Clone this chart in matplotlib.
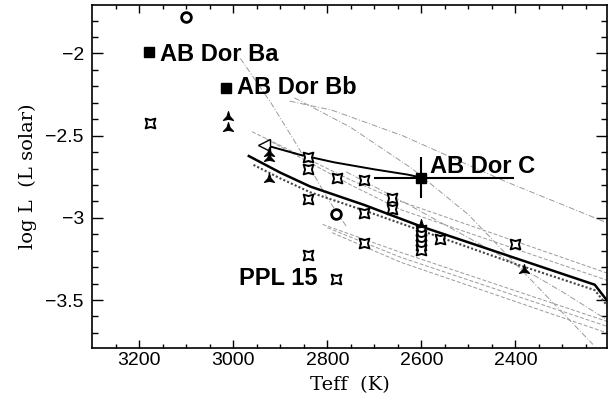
#!/usr/bin/env python3
"""HR-diagram style plot: AB Dor system vs tracks, written to out.png."""
import numpy as np
import matplotlib
matplotlib.use("Agg")
import matplotlib.pyplot as plt
from matplotlib.path import Path

# --- data (Teff in K, log L in solar units) ---
named_teff = [3180, 3015]
named_logl = [-1.99, -2.21]
abc_teff, abc_logl = 2600, -2.755
abc_xerr = [[198], [100]]
abc_yerr = 0.125

circle_teff = [3100, 2782]
circle_logl = [-1.78, -2.978]

star_teff = [3178, 2842, 2842, 2780, 2722, 2662, 2662, 2842, 2722, 2722,
             2842, 2782, 2600, 2600, 2600, 2600, 2600, 2560, 2400]
star_logl = [-2.42, -2.63, -2.70, -2.755, -2.77, -2.877, -2.947, -2.886,
             -2.97, -3.154, -3.225, -3.37, -3.075, -3.105, -3.135, -3.165,
             -3.195, -3.13, -3.16]

tri_teff = [3011, 3011, 2925, 2925, 2925, 2600, 2382]
tri_logl = [-2.385, -2.455, -2.605, -2.636, -2.764, -3.045, -3.316]

# thick solid track and its dotted twin
solid_teff = [2967, 2900, 2836, 2722, 2600, 2400, 2231, 2203]
solid_logl = [-2.624, -2.725, -2.81, -2.921, -3.053, -3.245, -3.407, -3.51]
dotted_teff = [2957, 2900, 2836, 2722, 2605, 2400, 2231, 2203]
dotted_logl = [-2.678, -2.76, -2.845, -2.955, -3.073, -3.28, -3.44, -3.54]

# track from the open triangle to AB Dor C
arrow_teff = [2935, 2860, 2786, 2700, 2629, 2600]
arrow_logl = [-2.555, -2.615, -2.662, -2.705, -2.737, -2.755]

# faint grey model lines
dashdot_teff = [[2985, 2920, 2864, 2800, 2760],
                [2880, 2790, 2640, 2420, 2205],
                [2870, 2750, 2620, 2500, 2235],
                [2760, 2640, 2450, 2300, 2205]]
dashdot_logl = [[-2.03, -2.30, -2.56, -2.88, -3.05],
                [-2.29, -2.345, -2.50, -2.78, -3.03],
                [-2.27, -2.45, -2.70, -2.98, -3.77],
                [-2.72, -2.90, -3.20, -3.45, -3.62]]
dashed_teff = [[2960, 2750, 2644, 2205],
               [2930, 2750, 2644, 2205],
               [2810, 2644, 2205],
               [2800, 2644, 2205],
               [2790, 2644, 2205]]
dashed_logl = [[-2.476, -2.77, -2.90, -3.336],
               [-2.52, -2.80, -2.95, -3.38],
               [-3.04, -3.21, -3.63],
               [-3.06, -3.24, -3.66],
               [-3.09, -3.27, -3.70]]

labels = ["AB Dor Ba", "AB Dor Bb", "AB Dor C", "PPL 15"]
label_teff = [3157, 2992, 2582, 2987]
label_logl = [-2.047, -2.249, -2.729, -3.407]


def star_marker(n, r, rot=0.0):
    verts = []
    for k in range(n):
        a = np.pi / 2 + rot + 2 * np.pi * k / n
        verts.append((np.cos(a), np.sin(a)))
        b = a + np.pi / n
        verts.append((r * np.cos(b), r * np.sin(b)))
    verts.append(verts[0])
    codes = [Path.MOVETO] + [Path.LINETO] * (len(verts) - 2) + [Path.CLOSEPOLY]
    return Path(verts, codes)


def main():
    fig = plt.figure(figsize=(6.14, 3.99), dpi=100)
    ax = fig.add_axes([0.1503, 0.1286, 0.8383, 0.8589])

    grey = "#9a9a9a"
    for t, l in zip(dashdot_teff, dashdot_logl):
        ax.plot(t, l, color=grey, lw=0.7, ls=(0, (6, 2, 1, 2)))
    for t, l in zip(dashed_teff, dashed_logl):
        ax.plot(t, l, color=grey, lw=0.7, ls=(0, (4, 2)))

    ax.plot(solid_teff, solid_logl, color="k", lw=1.8)
    ax.plot(dotted_teff, dotted_logl, color="#444444", lw=1.5, ls=(0, (1, 1)))
    ax.plot(arrow_teff, arrow_logl, color="k", lw=1.4)
    ax.plot(arrow_teff[:1], arrow_logl[:1], marker="<", ms=9, mfc="white",
            mec="k", mew=1.0, ls="none")

    star4 = star_marker(4, 0.5, rot=np.pi / 4)
    tri3 = star_marker(3, 0.3)
    ax.plot(star_teff, star_logl, ls="none", marker=star4, ms=7, mfc="white",
            mec="k", mew=1.4)
    ax.plot(tri_teff, tri_logl, ls="none", marker=tri3, ms=8.5, mfc="k",
            mec="k", mew=0.8)
    ax.plot(circle_teff, circle_logl, ls="none", marker="o", ms=7, mfc="white",
            mec="k", mew=2.0)
    ax.plot(named_teff, named_logl, ls="none", marker="s", ms=6.5, color="k")
    ax.errorbar([abc_teff], [abc_logl], xerr=abc_xerr, yerr=abc_yerr, fmt="s",
                ms=7, color="k", elinewidth=1.5, capsize=0)

    for s, t, l in zip(labels, label_teff, label_logl):
        ax.text(t, l, s, fontsize=17, fontweight="bold", family="Liberation Sans",
                ha="left", va="baseline")

    ax.set_xlim(3300, 2205)
    ax.set_ylim(-3.79, -1.705)
    ax.set_xticks([3200, 3000, 2800, 2600, 2400])
    ax.set_xticks(np.arange(3250, 2205, -50), minor=True)
    ax.set_yticks([-2, -2.5, -3, -3.5])
    ax.set_yticklabels(["\u22122", "\u22122.5", "\u22123", "\u22123.5"])
    ax.set_yticks(np.arange(-1.8, -3.75, -0.1), minor=True)
    ax.tick_params(which="both", direction="in", top=True, right=True,
                   width=1.0, labelsize=14)
    for lab in ax.get_xticklabels() + ax.get_yticklabels():
        lab.set_family("Liberation Sans")
    ax.tick_params(axis="x", which="major", length=5.5, pad=3)
    ax.tick_params(axis="x", which="minor", length=3)
    ax.tick_params(axis="y", which="major", length=8, pad=6)
    ax.tick_params(axis="y", which="minor", length=4.5)
    for sp in ax.spines.values():
        sp.set_linewidth(1.2)

    ax.set_xlabel("Teff  (K)", family="DejaVu Serif", fontsize=14, labelpad=5)
    ax.set_ylabel("log L  (L solar)", family="DejaVu Serif", fontsize=14, labelpad=6)

    fig.savefig("out.png", dpi=100)
    plt.close(fig)


if __name__ == "__main__":
    main()
